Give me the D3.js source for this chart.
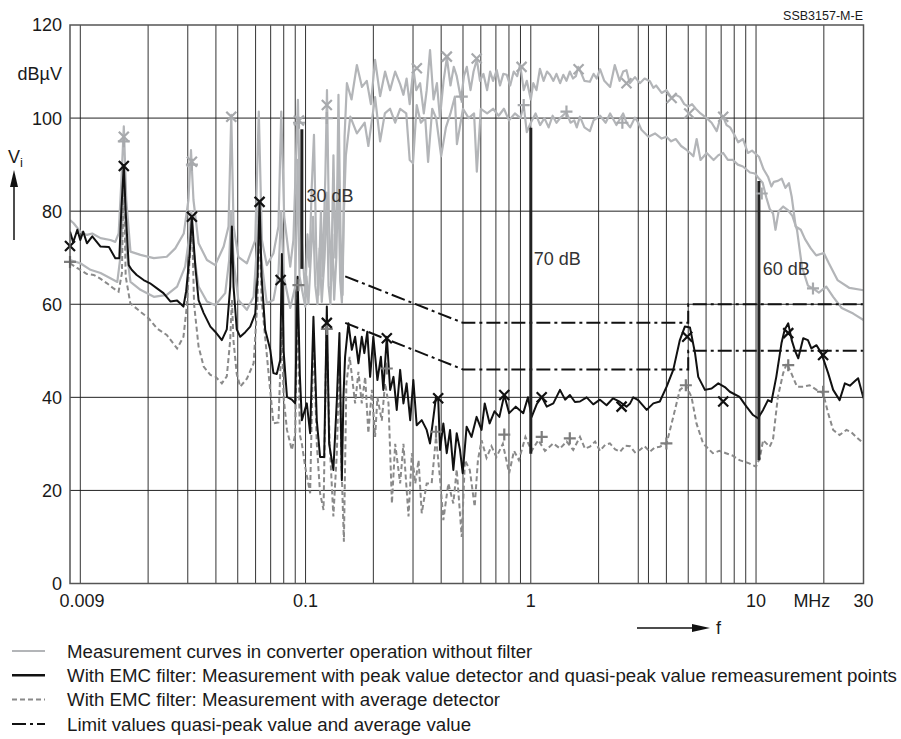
<!DOCTYPE html>
<html>
<head>
<meta charset="utf-8">
<script src="https://cdn.jsdelivr.net/npm/d3@7"></script>
<style>
body { margin: 0; background: #fff; }
text { font-family: "Liberation Sans", Arial, sans-serif; fill: #1a1a1a; }
</style>
</head>
<body>
<div id="chart"></div>
<script>
// frequency in MHz, level in dBµV

// unfiltered converter, upper curve (peak)
const noFilterPeak = [[0.009,78.1],[0.00934,77.4],[0.0100,75.6],[0.0107,74.9],[0.0113,75.2],[0.0123,74.2],[0.0136,73.8],[0.0143,73.4],[0.0148,75.2],[0.0152,86],[0.0156,98.2],[0.016,82.4],[0.0167,71.3],[0.0185,70.6],[0.0212,69.9],[0.0242,70.2],[0.0264,72],[0.0288,75.2],[0.0302,82.4],[0.031,93.1],[0.0318,82.4],[0.0335,73.1],[0.0365,69.5],[0.0397,68.4],[0.0433,72.4],[0.0455,76.7],[0.0468,100.7],[0.0479,76.7],[0.0503,70.2],[0.0549,68.8],[0.0598,73.8],[0.0620,101.4],[0.0640,73.8],[0.0673,68.4],[0.0720,70.9],[0.0758,76.7],[0.0780,101.4],[0.0804,78.8],[0.0855,68.1],[0.0883,73.8],[0.0925,103.9],[0.0947,78.8],[0.0997,62],[0.102,75],[0.104,68],[0.1065,85],[0.109,96.4],[0.1115,72],[0.114,62],[0.117,80],[0.119,66],[0.1225,88],[0.1245,106],[0.127,78],[0.13,65],[0.133,92],[0.1355,70],[0.138,82],[0.14,105],[0.143,75],[0.146,62],[0.149,96],[0.1526,107.5],[0.16,104],[0.169,111.4],[0.178,106.7],[0.187,108],[0.195,103],[0.2036,112.5],[0.2143,104.7],[0.2255,110],[0.2373,106],[0.25,110],[0.263,107.3],[0.272,105],[0.281,108.5],[0.29,103],[0.301,110.7],[0.31,106],[0.3225,107.5],[0.335,101],[0.345,106],[0.357,114.6],[0.37,104],[0.383,107.5],[0.395,100],[0.41,108],[0.424,113],[0.44,107],[0.455,111],[0.469,109],[0.49,104],[0.505,109],[0.52,111],[0.54,106],[0.557,110],[0.576,112.6],[0.595,108],[0.616,109.5],[0.64,106],[0.66,110],[0.68,108],[0.706,110.3],[0.73,107],[0.755,109.5],[0.782,109.3],[0.81,107],[0.84,110],[0.87,109],[0.897,111.5],[0.93,106],[0.96,108],[1.0,104],[1.026,107.5],[1.06,106],[1.098,110.6],[1.14,108],[1.18,110],[1.217,109.3],[1.26,108],[1.3,109.5],[1.35,107.5],[1.394,109.3],[1.44,108],[1.49,110],[1.54,108.5],[1.585,109],[1.625,111],[1.653,110.3],[1.73,108],[1.83,107.8],[1.9,109.5],[1.96,108.5],[2.03,110.5],[2.12,108],[2.25,106.7],[2.36,111.4],[2.48,108],[2.57,110],[2.66,110.3],[2.75,107.5],[2.9,108.8],[3.05,107.5],[3.2,108.5],[3.38,107.9],[3.5,106.5],[3.6,107],[3.81,105.4],[4.0,106],[4.22,104.3],[4.4,105],[4.6,104.5],[4.8,103],[5.0,102.5],[5.2,103],[5.4,102],[5.67,101],[6.04,100],[6.35,99],[6.69,97.2],[6.9,99.5],[7.15,100.2],[7.4,98.5],[7.67,98],[8.0,96.5],[8.33,94.8],[8.75,95.5],[9.2,92.5],[9.6,93],[10.3,91.7],[10.8,89],[11.3,87.4],[11.7,85.3],[12.0,86.3],[12.5,86.5],[13.0,87],[13.5,85],[14.0,86],[14.4,83.1],[15.0,76.7],[15.8,76],[16.5,74],[17.5,72],[18.5,70.5],[20,71],[21,68.9],[23,65.2],[26,63.5],[30,63]];

// unfiltered converter, lower curve
const noFilterAvg = [[0.009,69.5],[0.01,68.8],[0.0111,67.4],[0.0123,66.7],[0.0136,65.6],[0.0146,64.8],[0.0152,71.7],[0.0156,88],[0.016,72],[0.0167,64.8],[0.0185,63.1],[0.0212,61.6],[0.0242,62],[0.0269,63.8],[0.0292,68.1],[0.0306,75.2],[0.0311,80],[0.0318,71.7],[0.0335,63.8],[0.0365,60.6],[0.0397,59.8],[0.044,62.4],[0.0458,69.5],[0.0468,80],[0.0479,69.5],[0.0503,60.9],[0.0549,58.8],[0.0588,61.6],[0.0607,71.7],[0.0620,82.4],[0.0635,70],[0.0673,60.2],[0.072,60.9],[0.0758,66.7],[0.078,80],[0.08,66],[0.0855,59.2],[0.09,63.8],[0.0922,91],[0.094,66],[0.0997,59.5],[0.101,66],[0.103,60],[0.1055,70],[0.108,78.8],[0.1105,64],[0.113,60],[0.1155,72],[0.118,60.5],[0.1215,70],[0.1243,84],[0.1265,64],[0.129,60],[0.1315,75],[0.134,61],[0.137,70],[0.1395,88],[0.1425,65],[0.145,60.3],[0.148,80],[0.151,92],[0.158,100.3],[0.169,96.7],[0.183,99],[0.19,94],[0.2036,104.5],[0.2143,95],[0.225,101],[0.2373,102],[0.25,99],[0.263,102],[0.28,101],[0.29,91],[0.3,90.3],[0.3115,102.8],[0.325,99],[0.34,100],[0.35,90.6],[0.365,102],[0.38,100],[0.4,91.8],[0.42,98],[0.44,101],[0.46,104.6],[0.47,94.4],[0.5,102],[0.53,100],[0.56,101],[0.576,88.5],[0.6,102],[0.64,101],[0.68,102],[0.72,100.5],[0.76,102],[0.8,99.5],[0.85,101],[0.9,100],[0.93,102.8],[0.96,97],[1.0,99],[1.05,101],[1.1,98.5],[1.15,100],[1.2,98],[1.25,100.5],[1.3,99],[1.35,100],[1.44,101.3],[1.5,99],[1.56,99.5],[1.6,98],[1.653,100.3],[1.73,98],[1.83,97.2],[1.9,99.5],[2.03,100.5],[2.15,99],[2.25,101],[2.4,98.5],[2.57,101],[2.66,99],[2.76,98],[2.9,100.1],[3.0,99],[3.1,97.5],[3.33,96],[3.56,96.7],[3.81,95.6],[4.0,96],[4.2,95],[4.4,95.5],[4.65,94],[4.9,93.2],[5.1,92.5],[5.27,91.8],[5.45,95.5],[5.67,91],[6.04,92.5],[6.48,91],[6.8,92],[7.15,92.5],[7.5,91],[7.9,91],[8.3,90],[8.75,89.6],[9.4,88.3],[9.9,88.1],[10.3,87],[10.7,86.1],[11.1,83],[11.5,80.5],[11.9,79.5],[12.2,76],[12.6,80],[13.2,81],[13.8,80.3],[14.5,79],[15.2,76],[16,68],[17,64],[17.9,63.4],[19,62.5],[20.5,63.8],[22,61.6],[24,59.2],[27,58],[30,56.6]];

// with EMC filter, peak detector
const filterPeak = [[0.009,75.6],[0.0093,73.3],[0.0097,76],[0.01,73.8],[0.0103,75.6],[0.0107,73.1],[0.0113,74.6],[0.0123,72.4],[0.0134,72.3],[0.0143,69.9],[0.0149,69.9],[0.0152,80],[0.0156,89.9],[0.0159,80],[0.0164,68.4],[0.0169,67.4],[0.0178,66.3],[0.0191,65.2],[0.0204,64.5],[0.0219,63.4],[0.0234,62.4],[0.0251,60.6],[0.0269,60.8],[0.0287,59.5],[0.0295,62.8],[0.0305,70],[0.0313,78.8],[0.0324,68.1],[0.0335,60.9],[0.0353,58.1],[0.0378,55.2],[0.0397,54.1],[0.0425,52.3],[0.0447,54.6],[0.0463,63.8],[0.0471,76.7],[0.0479,63.8],[0.0495,54.6],[0.0513,53],[0.054,54],[0.0568,55.2],[0.0598,58],[0.0612,66],[0.0625,82],[0.0638,66],[0.0662,54.5],[0.0697,50.2],[0.072,45.2],[0.0745,45],[0.0772,48],[0.0785,70.8],[0.0799,50],[0.0827,40.1],[0.0869,39.5],[0.09,38.7],[0.0922,65.9],[0.0943,45],[0.0963,35.1],[0.1013,38.7],[0.1048,32.3],[0.1084,57.3],[0.1122,35],[0.116,27.2],[0.121,27.2],[0.1243,59.5],[0.1273,30],[0.1329,24.4],[0.1377,39.4],[0.1414,53.8],[0.1449,22.2],[0.1473,40],[0.1498,48.7],[0.155,55.9],[0.1605,50.2],[0.166,53],[0.1717,47.3],[0.1777,53],[0.1824,49.5],[0.188,54.1],[0.1935,44.4],[0.2,53],[0.2085,43.7],[0.216,48.7],[0.2215,41.6],[0.2295,53],[0.2375,41.6],[0.2457,44.4],[0.254,37.3],[0.263,45.9],[0.272,38.7],[0.281,43],[0.2915,35.1],[0.301,43.7],[0.3115,34],[0.328,35.1],[0.345,33],[0.357,30.1],[0.368,35],[0.3795,40.1],[0.388,39.8],[0.3955,28.7],[0.409,34.4],[0.4235,28],[0.438,33],[0.453,24.4],[0.469,32.3],[0.485,28.7],[0.4985,23.7],[0.519,33.7],[0.5455,31.5],[0.5745,35.8],[0.6045,33],[0.6245,38.7],[0.6565,34.4],[0.69,37],[0.7255,35.8],[0.7625,40.5],[0.8015,36.6],[0.8575,38],[0.926,36.6],[0.9715,40],[1.009,35.8],[1.062,38.5],[1.118,40.1],[1.177,38],[1.259,38.7],[1.348,41.6],[1.42,39.5],[1.492,40.5],[1.57,39],[1.653,39.1],[1.77,40],[1.894,38.5],[2.028,39.5],[2.17,38.3],[2.32,39.8],[2.49,39],[2.66,38],[2.76,38.7],[2.85,40],[3.0,39.4],[3.27,37.3],[3.5,38.7],[3.74,39.1],[4.01,42.3],[4.29,45.9],[4.59,52.3],[4.83,55.2],[5.09,55],[5.36,49.5],[5.54,44.4],[5.93,41.6],[6.35,41.9],[6.8,43],[7.27,42.2],[7.65,41.2],[8.45,40.1],[9.07,38],[9.7,36.2],[10.2,35.5],[10.75,37.3],[11.3,39.4],[11.7,39],[12.3,44.4],[12.97,51.6],[13.4,54.5],[13.9,55.9],[14.4,52.3],[14.9,50],[15.4,48.4],[16.2,52.7],[17.0,52.3],[17.6,50.5],[18.56,51.2],[19.5,49.5],[20.9,45.2],[22.0,41.6],[23.5,39.4],[24.8,43],[26.1,42.5],[27.5,43.5],[28.4,44.1],[30,39.8]];

// with EMC filter, average detector
const filterAvg = [[0.009,68.8],[0.00967,67.8],[0.01,67.4],[0.0107,66.5],[0.01146,66.3],[0.01227,65.5],[0.01314,64.5],[0.01405,63.4],[0.01479,62.7],[0.0153,66.7],[0.0156,89],[0.0159,66],[0.01667,60.2],[0.01846,58.4],[0.0201,57],[0.0219,54.8],[0.0242,53.4],[0.0269,50.5],[0.0287,53],[0.0297,59.5],[0.0313,78],[0.032,60],[0.0335,50.9],[0.0353,46.6],[0.0378,44.8],[0.0397,44.5],[0.0425,43],[0.0447,44.5],[0.0463,52.3],[0.0471,61],[0.0479,52],[0.0495,45],[0.0513,42.3],[0.0549,44],[0.0588,47.3],[0.0612,61],[0.0625,80],[0.0638,61],[0.0685,45.2],[0.072,34.4],[0.0758,34.6],[0.0785,55],[0.0799,40],[0.0827,33],[0.0869,28.7],[0.09,32],[0.0922,63],[0.0943,32],[0.0963,30],[0.0996,25.1],[0.1048,19.4],[0.1084,53.8],[0.1122,30],[0.116,19.4],[0.1202,15.8],[0.1239,54.5],[0.128,30],[0.1329,14.4],[0.1377,28],[0.1414,48.7],[0.1445,25],[0.148,9],[0.1518,43],[0.157,48.7],[0.166,38.7],[0.1717,45.5],[0.1777,38.7],[0.184,44.4],[0.19,32.3],[0.197,41.6],[0.2036,31.5],[0.2085,40],[0.218,35],[0.2255,43],[0.2335,38.7],[0.2418,17.2],[0.25,30],[0.263,21.5],[0.272,30],[0.2865,14.4],[0.2965,28],[0.307,21.5],[0.3175,26.5],[0.328,15.1],[0.345,21.5],[0.363,21.5],[0.3795,31.5],[0.3955,22.5],[0.409,13.6],[0.4305,21.5],[0.453,17.2],[0.469,24.5],[0.4935,10],[0.51,26.5],[0.536,24.4],[0.5635,16.5],[0.5825,26.5],[0.6045,30.8],[0.636,27],[0.669,29.5],[0.7035,27.2],[0.7515,30],[0.8015,23.7],[0.8425,28.5],[0.8855,26.5],[0.9465,31.5],[1.009,28.5],[1.08,30.8],[1.156,28.5],[1.259,30.1],[1.348,29],[1.443,30.5],[1.543,28.7],[1.653,31.5],[1.74,29],[1.83,29.4],[1.93,30.5],[2.028,28.5],[2.14,29.8],[2.245,30.1],[2.37,28.8],[2.49,28.3],[2.62,29.6],[2.76,29.5],[2.9,28.2],[3.05,28.7],[3.2,29.5],[3.38,28.3],[3.55,29.2],[3.74,29.4],[4.01,30.1],[4.29,35.8],[4.59,41.6],[4.88,42.6],[5.17,40.1],[5.44,34.4],[5.82,30.1],[6.43,28],[6.87,28.5],[7.35,28],[7.85,27.5],[8.45,26.5],[9.33,25.8],[10.0,25.1],[10.4,27],[10.75,30.8],[11.5,29.4],[11.9,31],[12.5,40.1],[13.2,45.2],[13.7,47.3],[14.4,45],[15.2,42.3],[16.2,42.3],[17.3,42.6],[18.56,41.6],[19.85,40.9],[20.9,36.6],[22,33],[23.5,31.9],[25.2,33],[26.5,32.5],[27.8,31.5],[30,30.1]];

// limit lines: quasi-peak and average
const limitQP = [[0.15,66],[0.5,56],[5,56],[5,60],[30,60]];
const limitAvg = [[0.15,56],[0.5,46],[5,46],[5,50],[30,50]];

// attenuation bars
const attenuation = [
  {f: 0.0963, top: 97.6, bottom: 67.6, label: "30 dB", lf: 0.101, lv: 82},
  {f: 1.0, top: 97.9, bottom: 27.9, label: "70 dB", lf: 1.03, lv: 68.4},
  {f: 10.3, top: 86.5, bottom: 26.5, label: "60 dB", lf: 10.7, lv: 66.3}
];

// remeasurement points
const qpMarksFilter = [[0.009,72.5],[0.0156,89.7],[0.0313,78.8],[0.0625,82],[0.0775,65.2],[0.1243,56],[0.2295,52.7],[0.388,39.8],[0.7625,40.5],[1.118,40],[2.53,38],[4.95,53],[7.15,39.1],[13.9,53.8],[19.85,49.1]];
const avgMarksFilter = [[0.009,69.1],[0.093,64.1],[0.1243,54.7],[0.2295,46.2],[0.3795,32.6],[0.7625,32],[1.118,31.5],[1.49,31.2],[4.0,30.1],[4.88,42.6],[13.9,46.9],[19.85,41.2]];
const qpMarksNoFilter = [[0.0156,96],[0.0313,90.6],[0.0468,100.3],[0.0935,99.5],[0.1243,102.8],[0.312,110.7],[0.424,113.2],[0.575,112.8],[0.91,111],[1.63,110.5],[2.66,107.5],[4.22,104.3],[5.05,101],[7.15,100.3]];
const avgMarksNoFilter = [[0.0156,95],[0.0313,90],[0.0935,99],[0.1243,100],[0.494,104.6],[0.93,102.8],[1.44,101.4],[2.55,99],[10.6,83.8],[17.9,63.4]];

// grid and ticks
const gridFreqs = [0.01,0.02,0.03,0.04,0.05,0.06,0.07,0.08,0.09,0.1,0.2,0.3,0.4,0.5,0.6,0.7,0.8,0.9,1,2,3,3.33,4,5,6,7,8,9,10,20];
const gridLevels = [20,40,60,80,100];
const yTicks = [0,20,40,60,80,100,120];
const xTicks = [{f:0.009,t:"0.009",dx:12},{f:0.1,t:"0.1",dx:0},{f:1,t:"1",dx:0},{f:10,t:"10",dx:0},{f:17.7,t:"MHz",dx:0},{f:30,t:"30",dx:0}];

const legendItems = [
  {t:"Measurement curves in converter operation without filter", s:"nofilter"},
  {t:"With EMC filter: Measurement with peak value detector and quasi-peak value remeasurement points", s:"peak"},
  {t:"With EMC filter: Measurement with average detector", s:"avg"},
  {t:"Limit values quasi-peak value and average value", s:"limit"}
];

const margin = {top: 25, right: 37.5, bottom: 155.5, left: 70},
  width = 901 - margin.left - margin.right,
  height = 739 - margin.top - margin.bottom;

const svgRoot = d3.select("#chart").append("svg")
  .attr("width", 901).attr("height", 739)
  .style("display", "block");
svgRoot.append("rect").attr("width", 901).attr("height", 739).attr("fill", "#fff");

const svg = svgRoot.append("g")
  .attr("transform", `translate(${margin.left}, ${margin.top})`);

const x = d3.scaleLog().domain([0.009, 30]).range([0, width]);
const y = d3.scaleLinear().domain([0, 120]).range([height, 0]);

const C_LIGHT = "#b3b5b8", C_DASH = "#8a8a8a", C_BLACK = "#111";

svg.append("defs").append("clipPath").attr("id", "clip")
  .append("rect").attr("width", width).attr("height", height);

// grid
svg.append("g").selectAll("line").data(gridFreqs).join("line")
  .attr("x1", d => x(d)).attr("x2", d => x(d))
  .attr("y1", 0).attr("y2", height)
  .attr("stroke", "#333").attr("stroke-width", 1);
svg.append("g").selectAll("line").data(gridLevels).join("line")
  .attr("x1", 0).attr("x2", width)
  .attr("y1", d => y(d)).attr("y2", d => y(d))
  .attr("stroke", "#222").attr("stroke-width", 1);

const line = d3.line().x(d => x(d[0])).y(d => y(d[1]));
const plot = svg.append("g").attr("clip-path", "url(#clip)");

// unfiltered curves
[noFilterAvg, noFilterPeak].forEach(s => {
  plot.append("path").datum(s).attr("d", line)
    .attr("fill", "none").attr("stroke", C_LIGHT)
    .attr("stroke-width", 2.2).attr("stroke-linejoin", "round");
});

// average detector
plot.append("path").datum(filterAvg).attr("d", line)
  .attr("fill", "none").attr("stroke", C_DASH)
  .attr("stroke-width", 2).attr("stroke-dasharray", "5,3");

// peak detector
plot.append("path").datum(filterPeak).attr("d", line)
  .attr("fill", "none").attr("stroke", C_BLACK)
  .attr("stroke-width", 2).attr("stroke-linejoin", "round");

// limits
[limitQP, limitAvg].forEach(s => {
  plot.append("path").datum(s).attr("d", line)
    .attr("fill", "none").attr("stroke", C_BLACK)
    .attr("stroke-width", 2).attr("stroke-dasharray", "14,4,3,4");
});

// attenuation bars and labels
svg.append("g").selectAll("line").data(attenuation).join("line")
  .attr("x1", d => x(d.f)).attr("x2", d => x(d.f))
  .attr("y1", d => y(d.top)).attr("y2", d => y(d.bottom))
  .attr("stroke", "#222").attr("stroke-width", 3);
svg.append("g").selectAll("text").data(attenuation).join("text")
  .attr("x", d => x(d.lf)).attr("y", d => y(d.lv))
  .attr("font-size", 18).style("fill", "#333")
  .text(d => d.label);

// markers
function cross(g, data, color, size, sw) {
  g.selectAll(null).data(data).join("path")
    .attr("transform", d => `translate(${x(d[0])},${y(d[1])})`)
    .attr("d", `M${-size},${-size}L${size},${size}M${-size},${size}L${size},${-size}`)
    .attr("stroke", color).attr("stroke-width", sw).attr("fill", "none");
}
function plus(g, data, color, size, sw) {
  g.selectAll(null).data(data).join("path")
    .attr("transform", d => `translate(${x(d[0])},${y(d[1])})`)
    .attr("d", `M${-size},0L${size},0M0,${-size}L0,${size}`)
    .attr("stroke", color).attr("stroke-width", sw).attr("fill", "none");
}
const marks = svg.append("g");
cross(marks, qpMarksNoFilter, "#a7a9ac", 5, 2.2);
plus(marks, avgMarksNoFilter, "#a7a9ac", 6, 2.2);
plus(marks, avgMarksFilter, "#7d7d7d", 6, 2.2);
cross(marks, qpMarksFilter, "#111", 5, 2.2);

// frame
svg.append("rect").attr("width", width).attr("height", height)
  .attr("fill", "none").attr("stroke", "#555").attr("stroke-width", 1.5);

// y tick labels
svg.append("g").selectAll("text").data(yTicks).join("text")
  .attr("x", -8).attr("y", d => y(d)).attr("dy", "0.36em")
  .attr("text-anchor", "end").attr("font-size", 18)
  .text(d => d);
svg.append("text").attr("x", -8).attr("y", 55).attr("text-anchor", "end")
  .attr("font-size", 18).text("dBµV");

// x tick labels
svg.append("g").selectAll("text").data(xTicks).join("text")
  .attr("x", d => x(d.f) + d.dx).attr("y", height + 23)
  .attr("text-anchor", "middle").attr("font-size", 18)
  .text(d => d.t);

// axis symbols
const vi = svgRoot.append("text").attr("x", 8).attr("y", 163).attr("font-size", 18);
vi.append("tspan").text("V");
vi.append("tspan").attr("font-size", 13).attr("dy", 4).text("i");
svgRoot.append("line").attr("x1", 14).attr("x2", 14).attr("y1", 240).attr("y2", 184)
  .attr("stroke", "#111").attr("stroke-width", 1.5);
svgRoot.append("path").attr("d", "M14,170L10,187L18,187Z").attr("fill", "#111");

svgRoot.append("line").attr("x1", 637).attr("x2", 695).attr("y1", 628).attr("y2", 628)
  .attr("stroke", "#111").attr("stroke-width", 1.5);
svgRoot.append("path").attr("d", "M710,628L692,624L692,632Z").attr("fill", "#111");
svgRoot.append("text").attr("x", 716).attr("y", 634).attr("font-size", 18).text("f");

svgRoot.append("text").attr("x", 863).attr("y", 20).attr("text-anchor", "end")
  .attr("font-size", 12.5).text("SSB3157-M-E");

// legend
const legend = svgRoot.append("g").attr("transform", "translate(0, 651)");
const rows = legend.selectAll("g").data(legendItems).join("g")
  .attr("transform", (d, i) => `translate(0, ${i * 24.3})`);
rows.append("text").attr("x", 67).attr("y", 0).attr("dy", "0.36em")
  .attr("font-size", 18.7).text(d => d.t);
rows.each(function(d) {
  const g = d3.select(this);
  if (d.s === "nofilter") {
    g.append("line").attr("x1", 12).attr("x2", 45).attr("stroke", C_LIGHT).attr("stroke-width", 2.2);
  } else if (d.s === "peak") {
    g.append("line").attr("x1", 12).attr("x2", 45).attr("stroke", C_BLACK).attr("stroke-width", 2.5);
  } else if (d.s === "avg") {
    g.append("line").attr("x1", 12).attr("x2", 45).attr("stroke", C_DASH).attr("stroke-width", 2).attr("stroke-dasharray", "5,3");
  } else {
    g.append("line").attr("x1", 12).attr("x2", 45).attr("stroke", C_BLACK).attr("stroke-width", 2).attr("stroke-dasharray", "14,4,3,4");
  }
});
</script>
</body>
</html>
